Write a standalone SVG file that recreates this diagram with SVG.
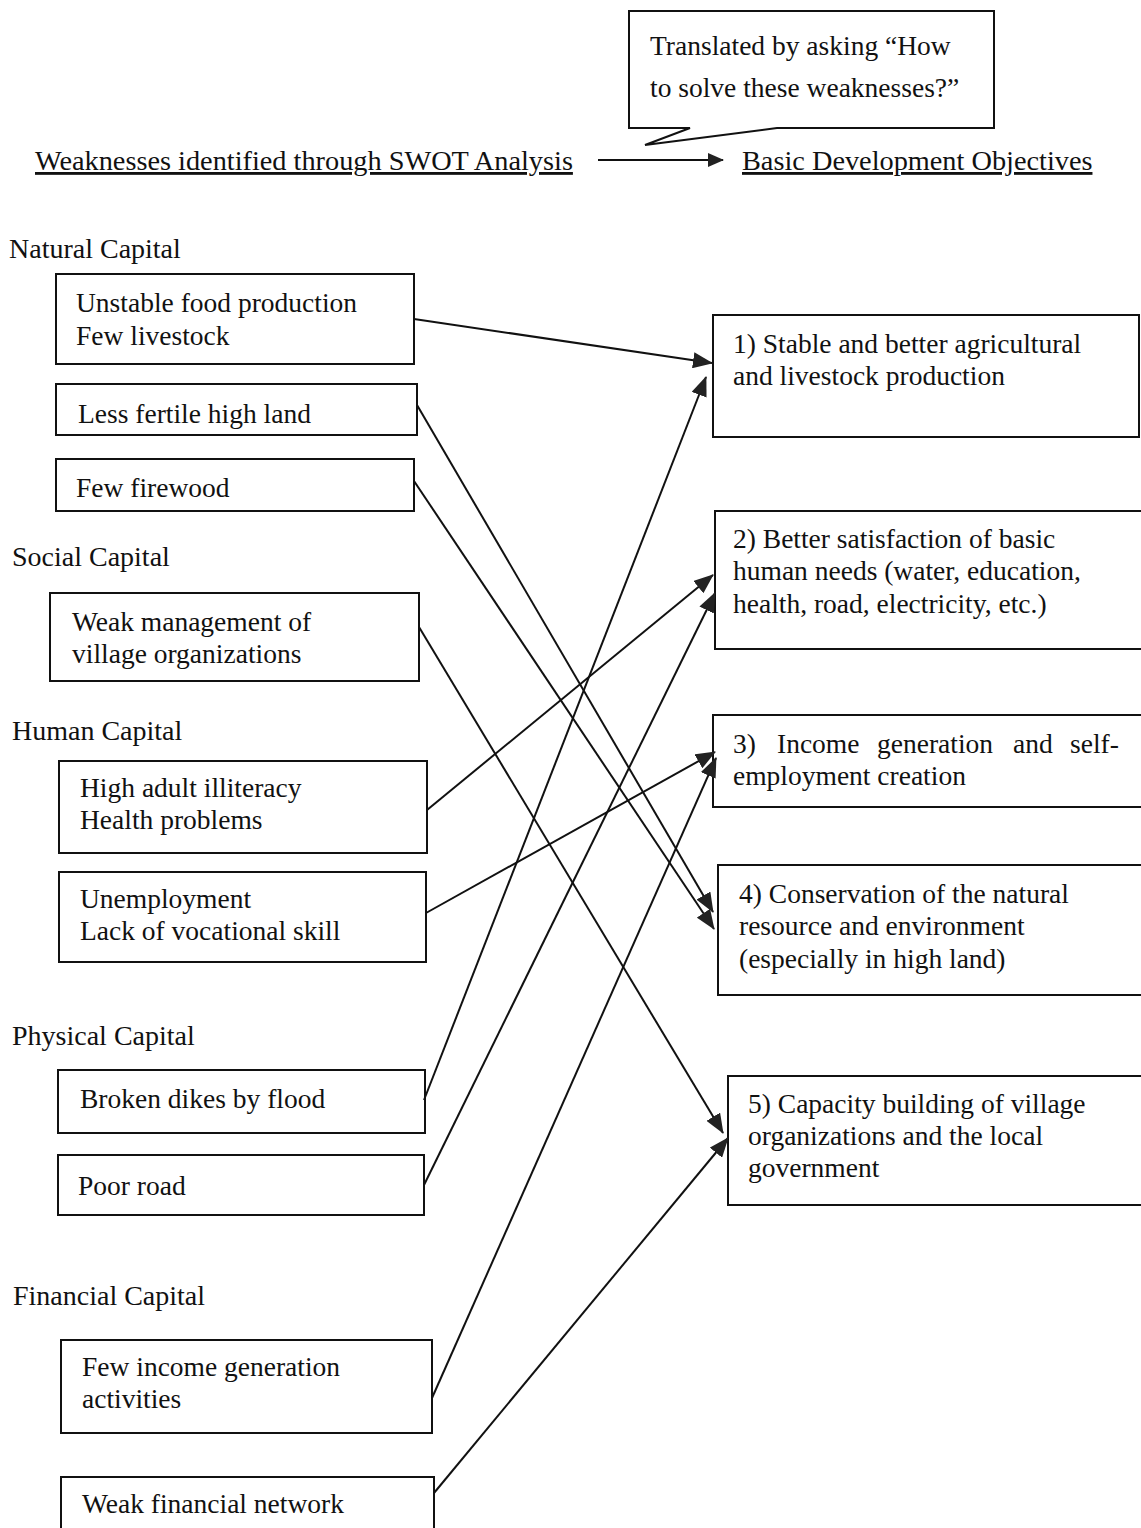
<svg xmlns="http://www.w3.org/2000/svg" width="1141" height="1528" viewBox="0 0 1141 1528">
  <style>
    text { font-family: "Liberation Serif", "Times New Roman", serif; font-size: 27.5px; fill: #111; }
    .head { font-size: 28.3px; text-decoration: underline; }
    .cat { font-size: 28px; }
    .box { fill: #fff; stroke: #111; stroke-width: 2; }
    .link { stroke: #111; stroke-width: 2; fill: none; marker-end: url(#head); }
  </style>
  <defs>
    <marker id="head" markerUnits="userSpaceOnUse" markerWidth="20" markerHeight="16" refX="19" refY="8" orient="auto">
      <path d="M0,0 L20,8 L0,16 Z" fill="#222"/>
    </marker>
    <marker id="headSmall" markerUnits="userSpaceOnUse" markerWidth="16" markerHeight="14" refX="15" refY="7" orient="auto">
      <path d="M0,0 L16,7 L0,14 Z" fill="#222"/>
    </marker>
  </defs>
  <rect width="1141" height="1528" fill="#fff"/>

  <!-- callout bubble -->
  <g id="callout">
    <path class="box" d="M629,11 H994 V128 H777 L645,145 L690,128 H629 Z"/>
    <text x="650" y="55">Translated by asking “How</text>
    <text x="650" y="97">to solve these weaknesses?”</text>
  </g>

  <!-- column headings -->
  <g id="heading-left"><text class="head" x="35" y="170">Weaknesses identified through SWOT Analysis</text></g>
  <g id="heading-right"><text class="head" x="742" y="170">Basic Development Objectives</text></g>
  <g id="heading-arrow">
    <line x1="598" y1="160" x2="723" y2="160" stroke="#111" stroke-width="2" marker-end="url(#headSmall)"/>
  </g>

  <!-- capital category labels -->
  <g id="labels">
    <text class="cat" x="9" y="258">Natural Capital</text>
    <text class="cat" x="12" y="566">Social Capital</text>
    <text class="cat" x="12" y="740">Human Capital</text>
    <text class="cat" x="12" y="1045">Physical Capital</text>
    <text class="cat" x="13" y="1305">Financial Capital</text>
  </g>

  <!-- weaknesses -->
  <g id="w-food">
    <rect class="box" x="56" y="274" width="358" height="90"/>
    <text x="76" y="312">Unstable food production</text>
    <text x="76" y="345">Few livestock</text>
  </g>
  <g id="w-land">
    <rect class="box" x="56" y="384" width="361" height="51"/>
    <text x="78" y="423">Less fertile high land</text>
  </g>
  <g id="w-firewood">
    <rect class="box" x="56" y="459" width="358" height="52"/>
    <text x="76" y="497">Few firewood</text>
  </g>
  <g id="w-management">
    <rect class="box" x="50" y="593" width="369" height="88"/>
    <text x="72" y="631">Weak management of</text>
    <text x="72" y="663">village organizations</text>
  </g>
  <g id="w-illiteracy">
    <rect class="box" x="59" y="761" width="368" height="92"/>
    <text x="80" y="797">High adult illiteracy</text>
    <text x="80" y="829">Health problems</text>
  </g>
  <g id="w-unemployment">
    <rect class="box" x="59" y="872" width="367" height="90"/>
    <text x="80" y="908">Unemployment</text>
    <text x="80" y="940">Lack of vocational skill</text>
  </g>
  <g id="w-dikes">
    <rect class="box" x="58" y="1070" width="367" height="63"/>
    <text x="80" y="1108">Broken dikes by flood</text>
  </g>
  <g id="w-road">
    <rect class="box" x="58" y="1155" width="366" height="60"/>
    <text x="78" y="1195">Poor road</text>
  </g>
  <g id="w-income">
    <rect class="box" x="61" y="1340" width="371" height="93"/>
    <text x="82" y="1376">Few income generation</text>
    <text x="82" y="1408">activities</text>
  </g>
  <g id="w-finance">
    <rect class="box" x="61" y="1477" width="373" height="60"/>
    <text x="82" y="1513">Weak financial network</text>
  </g>

  <!-- development objectives -->
  <g id="o1">
    <rect class="box" x="713" y="315" width="426" height="122"/>
    <text x="733" y="353">1) Stable and better agricultural</text>
    <text x="733" y="385">and livestock production</text>
  </g>
  <g id="o2">
    <rect class="box" x="715" y="511" width="430" height="138"/>
    <text x="733" y="548">2) Better satisfaction of basic</text>
    <text x="733" y="580">human needs (water, education,</text>
    <text x="733" y="613">health, road, electricity, etc.)</text>
  </g>
  <g id="o3">
    <rect class="box" x="713" y="715" width="432" height="92"/>
    <text y="753"><tspan x="733">3)</tspan><tspan x="777">Income</tspan><tspan x="877">generation</tspan><tspan x="1013">and</tspan><tspan x="1070">self-</tspan></text>
    <text x="733" y="785">employment creation</text>
  </g>
  <g id="o4">
    <rect class="box" x="718" y="865" width="427" height="130"/>
    <text x="739" y="903">4) Conservation of the natural</text>
    <text x="739" y="935">resource and environment</text>
    <text x="739" y="968">(especially in high land)</text>
  </g>
  <g id="o5">
    <rect class="box" x="728" y="1076" width="417" height="129"/>
    <text x="748" y="1113">5) Capacity building of village</text>
    <text x="748" y="1145">organizations and the local</text>
    <text x="748" y="1177">government</text>
  </g>

  <!-- connectors from weaknesses to objectives -->
  <g id="connectors">
    <line class="link" x1="414" y1="319" x2="712" y2="363"/>
    <line class="link" x1="417" y1="405" x2="713" y2="912"/>
    <line class="link" x1="414" y1="481" x2="714" y2="929"/>
    <line class="link" x1="419" y1="627" x2="723" y2="1133"/>
    <line class="link" x1="427" y1="810" x2="713" y2="575"/>
    <line class="link" x1="426" y1="913" x2="715" y2="752"/>
    <line class="link" x1="424" y1="1100" x2="706" y2="377"/>
    <line class="link" x1="424" y1="1185" x2="715" y2="593"/>
    <line class="link" x1="432" y1="1398" x2="716" y2="758"/>
    <line class="link" x1="434" y1="1493" x2="728" y2="1138"/>
  </g>
</svg>
